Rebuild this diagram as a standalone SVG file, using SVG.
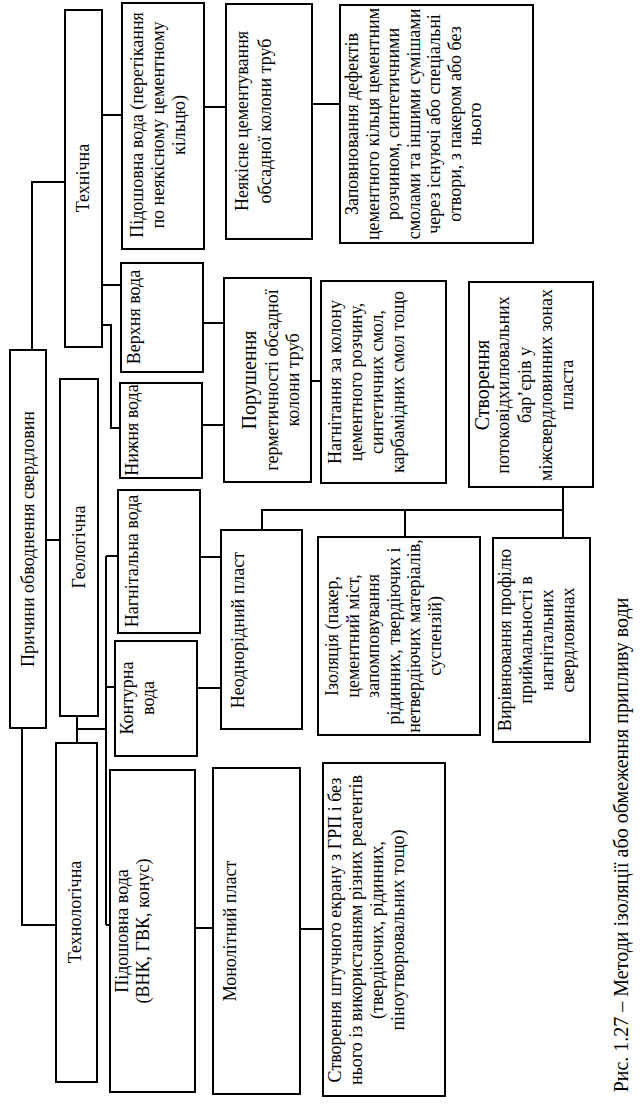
<svg xmlns="http://www.w3.org/2000/svg" width="643" height="1109" viewBox="0 0 643 1109">
<style>
rect{fill:#fff;stroke:#000;stroke-width:2}
text{font-family:"Liberation Serif","Times New Roman",serif;font-size:18px;fill:#000;text-anchor:middle;dominant-baseline:central}
.cap{font-size:20px}
#connectors path{fill:none;stroke:#000;stroke-width:2}
</style>
<rect x="0" y="0" width="643" height="1109" style="stroke:none"/>
<g id="connectors">
<path d="M32,350 V182 H65"/>
<path d="M46,540 H60"/>
<path d="M22,728 V925 H56"/>
<path d="M102,115 H122"/>
<path d="M102,285 H121"/>
<path d="M102,325 H111 V428 H120"/>
<path d="M77,716 V743"/>
<path d="M77,729 H106"/>
<path d="M106,556 V925"/>
<path d="M106,556 H118"/>
<path d="M106,687 H115"/>
<path d="M106,925 H110"/>
<path d="M204,107 H226"/>
<path d="M312,104 H340"/>
<path d="M203,323 H224"/>
<path d="M202,425 H224"/>
<path d="M311,381 H321"/>
<path d="M200,557 H221"/>
<path d="M197,688 H221"/>
<path d="M262,530 V510 H563"/>
<path d="M405,510 V537"/>
<path d="M563,487 V538"/>
<path d="M195,928 H213"/>
<path d="M300,929 H323"/>
</g>
<g id="n_root"><rect x="10" y="350" width="36" height="378"/><text transform="rotate(-90)" x="-539" y="28">Причини обводнення свердловин</text></g>
<g id="n_tech"><rect x="65" y="10" width="37" height="337"/><text transform="rotate(-90)" x="-178" y="83">Технічна</text></g>
<g id="n_geo"><rect x="60" y="379" width="38" height="337"/><text transform="rotate(-90)" x="-547" y="79">Геологічна</text></g>
<g id="n_technol"><rect x="56" y="743" width="41" height="339"/><text transform="rotate(-90)" x="-912" y="75">Технологічна</text></g>
<g id="n_pidosh_perek"><rect x="122" y="3" width="82" height="246"/><text transform="rotate(-90)"><tspan x="-125" y="137">Підошовна вода (перетікання</tspan><tspan x="-125" y="158">по неякісному цементному</tspan><tspan x="-125" y="179">кільцю)</tspan></text></g>
<g id="n_neyakisne"><rect x="226" y="4" width="86" height="235"/><text transform="rotate(-90)"><tspan x="-121" y="242">Неякісне цементування</tspan><tspan x="-121" y="265">обсадної колони труб</tspan></text></g>
<g id="n_zapovn"><rect x="340" y="5" width="193" height="238"/><text transform="rotate(-90)"><tspan x="-124" y="352">Заповнювання дефектів</tspan><tspan x="-124" y="372.5">цементного кільця цементним</tspan><tspan x="-124" y="393">розчином, синтетичними</tspan><tspan x="-124" y="413.5">смолами та іншими сумішами</tspan><tspan x="-124" y="434">через існуючі або спеціальні</tspan><tspan x="-124" y="454.5">отвори, з пакером або без</tspan><tspan x="-124" y="475">нього</tspan></text></g>
<g id="n_verkhnya"><rect x="121" y="263" width="82" height="109"/><text transform="rotate(-90)" x="-317" y="134">Верхня вода</text></g>
<g id="n_nyzhnya"><rect x="120" y="383" width="82" height="95"/><text transform="rotate(-90)" x="-430" y="132">Нижня вода</text></g>
<g id="n_porush"><rect x="224" y="278" width="87" height="204"/><text transform="rotate(-90)"><tspan x="-380" y="249" style="font-size:20px">Порушення</tspan><tspan x="-380" y="272">герметичності обсадної</tspan><tspan x="-380" y="293">колони труб</tspan></text></g>
<g id="n_nahnit_kolona"><rect x="321" y="281" width="125" height="202"/><text transform="rotate(-90)"><tspan x="-382" y="335">Нагнітання за колону</tspan><tspan x="-382" y="356">цементного розчину,</tspan><tspan x="-382" y="377">синтетичних смол,</tspan><tspan x="-382" y="398">карбамідних смол тощо</tspan></text></g>
<g id="n_stvor_potok"><rect x="469" y="282" width="124" height="205"/><text transform="rotate(-90)"><tspan x="-385" y="482" style="font-size:20px">Створення</tspan><tspan x="-385" y="503">потоковідхилювальних</tspan><tspan x="-385" y="525">бар’єрів у</tspan><tspan x="-385" y="546">міжсвердловинних зонах</tspan><tspan x="-385" y="567">пласта</tspan></text></g>
<g id="n_nahnit_voda"><rect x="118" y="490" width="82" height="143"/><text transform="rotate(-90)" x="-561" y="132">Нагнітальна вода</text></g>
<g id="n_kontur"><rect x="115" y="641" width="82" height="115"/><text transform="rotate(-90)"><tspan x="-698" y="127">Контурна</tspan><tspan x="-698" y="148">вода</tspan></text></g>
<g id="n_neodnor"><rect x="221" y="530" width="81" height="199"/><text transform="rotate(-90)" x="-630" y="238">Неоднорідний пласт</text></g>
<g id="n_izol"><rect x="318" y="537" width="162" height="198"/><text transform="rotate(-90)"><tspan x="-636" y="332">Ізоляція (пакер,</tspan><tspan x="-636" y="352.5">цементний міст,</tspan><tspan x="-636" y="373">запомповування</tspan><tspan x="-636" y="393.5">рідинних, твердіючих і</tspan><tspan x="-636" y="414">нетвердіючих матеріалів,</tspan><tspan x="-636" y="434.5">суспензій)</tspan></text></g>
<g id="n_vyrivn"><rect x="493" y="538" width="97" height="204"/><text transform="rotate(-90)"><tspan x="-640" y="505">Вирівнювання профілю</tspan><tspan x="-640" y="526">приймальності в</tspan><tspan x="-640" y="547">нагнітальних</tspan><tspan x="-640" y="568">свердловинах</tspan></text></g>
<g id="n_pidosh_vnk"><rect x="110" y="770" width="85" height="322"/><text transform="rotate(-90)"><tspan x="-931" y="122">Підошовна вода</tspan><tspan x="-931" y="143">(ВНК, ГВК, конус)</tspan></text></g>
<g id="n_monolit"><rect x="213" y="768" width="87" height="326"/><text transform="rotate(-90)" x="-931" y="230">Монолітний пласт</text></g>
<g id="n_stvor_shtuch"><rect x="323" y="763" width="122" height="333"/><text transform="rotate(-90)"><tspan x="-930" y="335">Створення штучного екрану з ГРП і без</tspan><tspan x="-930" y="356">нього із використанням різних реагентів</tspan><tspan x="-930" y="377">(твердіючих, рідинних,</tspan><tspan x="-930" y="398">піноутворювальних тощо)</tspan></text></g>
<text class="cap" transform="rotate(-90)" x="-845" y="621">Рис. 1.27 – Методи ізоляції або обмеження припливу води</text>
</svg>
